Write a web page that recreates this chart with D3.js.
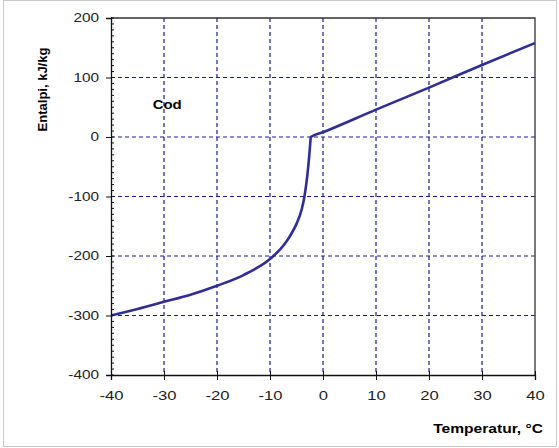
<!DOCTYPE html>
<html>
<head>
<meta charset="utf-8">
<script src="https://cdn.jsdelivr.net/npm/d3@7"></script>
<style>
  body { margin: 0; background: #fff; }
  svg { display: block; font-family: "Liberation Sans", Arial, sans-serif; }
</style>
</head>
<body>
<div id="chart"></div>
<script>
// temperature (°C) and enthalpy (kJ/kg)
const temps = [-40, -35, -30, -25, -20, -15, -10, -9, -8, -7, -6, -5, -4, -3.5, -3, -2.6, -2.4, -2.3, 0, 10, 20, 30, 40];
const enthalpy = [-300, -289, -277, -265, -250, -232, -205, -197, -188, -177, -163, -146, -121, -100, -68, -32, -10, 0, 8, 46, 83, 121, 158];
const xTicks = [-40, -30, -20, -10, 0, 10, 20, 30, 40];
const yTicks = [-400, -300, -200, -100, 0, 100, 200];

const data = temps.map((t, i) => ({ t: t, h: enthalpy[i] }));

const width = 559;
const height = 448;
const margin = { top: 18, right: 24, bottom: 73, left: 111 };
const stretch = 1.28; // the source text looks horizontally widened

const svg = d3.select('#chart')
    .append('svg')
    .attr('width', width)
    .attr('height', height);

// outer frame
svg.append('rect')
    .attr('x', 3.5).attr('y', 0.5)
    .attr('width', 553).attr('height', 446)
    .attr('fill', '#fff')
    .attr('stroke', '#c8c8c8');

const x = d3.scaleLinear()
    .domain([-40, 40])
    .range([margin.left, width - margin.right]);

const y = d3.scaleLinear()
    .domain([-400, 200])
    .range([height - margin.bottom, margin.top]);

// grid
const grid = svg.append('g')
    .attr('stroke', '#1a1aa0')
    .attr('stroke-width', 1.2)
    .attr('stroke-dasharray', '4,3');

grid.selectAll('line.gx')
    .data(xTicks.slice(1, -1))
    .join('line')
    .attr('x1', d => x(d)).attr('x2', d => x(d))
    .attr('y1', y(200)).attr('y2', y(-400));

grid.selectAll('line.gy')
    .data(yTicks.slice(1, -1))
    .join('line')
    .attr('x1', x(-40)).attr('x2', x(40))
    .attr('y1', d => y(d)).attr('y2', d => y(d));

// plot border (top and right)
svg.append('path')
    .attr('d', `M${x(-40)},${y(200)}H${x(40)}V${y(-400)}`)
    .attr('fill', 'none')
    .attr('stroke', '#333')
    .attr('stroke-width', 1.3);

// curve
svg.append('path')
    .datum(data)
    .attr('fill', 'none')
    .attr('stroke', '#2e2e96')
    .attr('stroke-width', 2.6)
    .attr('stroke-linejoin', 'round')
    .attr('d', d3.line().curve(d3.curveMonotoneX).x(d => x(d.t)).y(d => y(d.h)));

function yAxis(g) {
    g.attr('transform', `translate(${x(-40)},0)`)
        .call(d3.axisLeft(y).tickValues(yTicks).tickSize(5).tickFormat(d => String(d)))
        .attr('font-size', '12px');
    g.select('.domain').attr('stroke', '#111').attr('stroke-width', 1.3);
    g.selectAll('.tick line').attr('stroke', '#111');
    g.selectAll('.tick text')
        .attr('fill', '#222')
        .attr('x', -12 / stretch)
        .attr('transform', `scale(${stretch},1)`);
}

function xAxis(g) {
    g.attr('transform', `translate(0,${y(-400)})`)
        .call(d3.axisBottom(x).tickValues(xTicks).tickSize(5).tickPadding(11).tickFormat(d => String(d)))
        .attr('font-size', '13px');
    g.select('.domain').attr('stroke', '#111').attr('stroke-width', 1.3);
    g.selectAll('.tick line').attr('stroke', '#111').attr('y1', -4);
    g.selectAll('.tick text')
        .attr('fill', '#222')
        .attr('transform', `scale(${stretch},1)`);
}

svg.append('g').call(xAxis);
svg.append('g').call(yAxis);

// minor ticks on the y axis, inside
svg.append('g')
    .selectAll('line')
    .data(d3.range(-400, 201, 10))
    .join('line')
    .attr('x1', x(-40)).attr('x2', x(-40) + 3)
    .attr('y1', d => y(d)).attr('y2', d => y(d))
    .attr('stroke', '#111');

// labels
svg.append('text')
    .attr('transform', `translate(47,${(y(200) + y(-400)) / 2 - 107}) rotate(-90)`)
    .attr('text-anchor', 'middle')
    .attr('font-size', '13px')
    .attr('font-weight', 'bold')
    .text('Entalpi,  kJ/kg');

svg.append('text')
    .attr('transform', `translate(543,433) scale(1.2,1)`)
    .attr('text-anchor', 'end')
    .attr('font-size', '13px')
    .attr('font-weight', 'bold')
    .text('Temperatur,  \u00b0C');

svg.append('text')
    .attr('transform', `translate(${x(-29.4)},${y(47)}) scale(1.15,1)`)
    .attr('text-anchor', 'middle')
    .attr('font-size', '13px')
    .attr('font-weight', 'bold')
    .text('Cod');
</script>
</body>
</html>
